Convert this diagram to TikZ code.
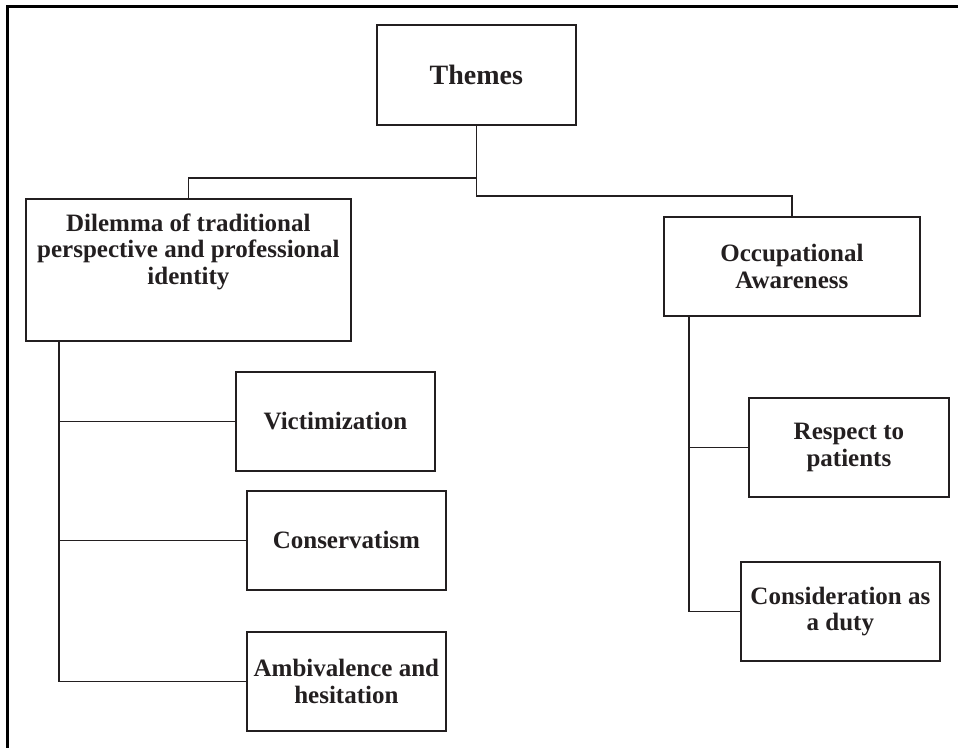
\documentclass[tikz,border=0pt]{standalone}
\usepackage{fontspec}
\setmainfont{Liberation Serif}
\definecolor{ink}{RGB}{35,31,32}
\tikzset{
  box/.style={draw=ink, line width=1.8pt, anchor=north west, align=center,
    inner sep=2pt, font=\fontsize{25}{26.5}\selectfont\bfseries, text=ink},
  conn/.style={draw=ink, line width=1.8pt},
  frame/.style={draw=black, line width=3pt}
}
\begin{document}
\begin{tikzpicture}[x=1pt,y=1pt]
\useasboundingbox (0,0) rectangle (958,-747);
\draw[frame] (960,-6.5) -- (7.5,-6.5) -- (7.5,-750);

\node[box, minimum width=199pt, minimum height=100pt, font=\fontsize{28}{30}\selectfont\bfseries] (themes) at (376,-24) {Themes};
\node[box, inner sep=0pt, minimum width=325pt, minimum height=142pt] (dil) at (25,-198)
  {\parbox[c][142pt][c]{325pt}{\centering Dilemma of traditional\\perspective and professional\\identity\par\vspace*{37pt}}};
\node[box, minimum width=199pt, minimum height=99pt] (vic) at (235,-371) {Victimization};
\node[box, minimum width=199pt, minimum height=99pt] (cons) at (246,-490) {Conservatism};
\node[box, minimum width=199pt, minimum height=99pt] (amb) at (246,-631) {Ambivalence and\\hesitation};
\node[box, minimum width=256pt, minimum height=99pt] (occ) at (663,-216) {Occupational\\Awareness};
\node[box, minimum width=200pt, minimum height=99pt] (resp) at (748,-397) {Respect to\\patients};
\node[box, minimum width=199pt, minimum height=99pt] (consid) at (740,-561) {Consideration as\\a duty};

\coordinate (j1) at (themes.south |- 0,-178);
\coordinate (j2) at (themes.south |- 0,-196);
\draw[conn] (themes.south) -- (j1) -| (dil.north);
\draw[conn] (j1) -- (j2) -| (occ.north);

\coordinate (lt) at ([xshift=34pt]dil.south west);
\draw[conn] (lt) |- (amb.west);
\draw[conn] (lt |- vic.west) -- (vic.west);
\draw[conn] (lt |- cons.west) -- (cons.west);

\coordinate (rt) at ([xshift=26pt]occ.south west);
\draw[conn] (rt) |- (consid.west);
\draw[conn] (rt |- resp.west) -- (resp.west);
\end{tikzpicture}
\end{document}
